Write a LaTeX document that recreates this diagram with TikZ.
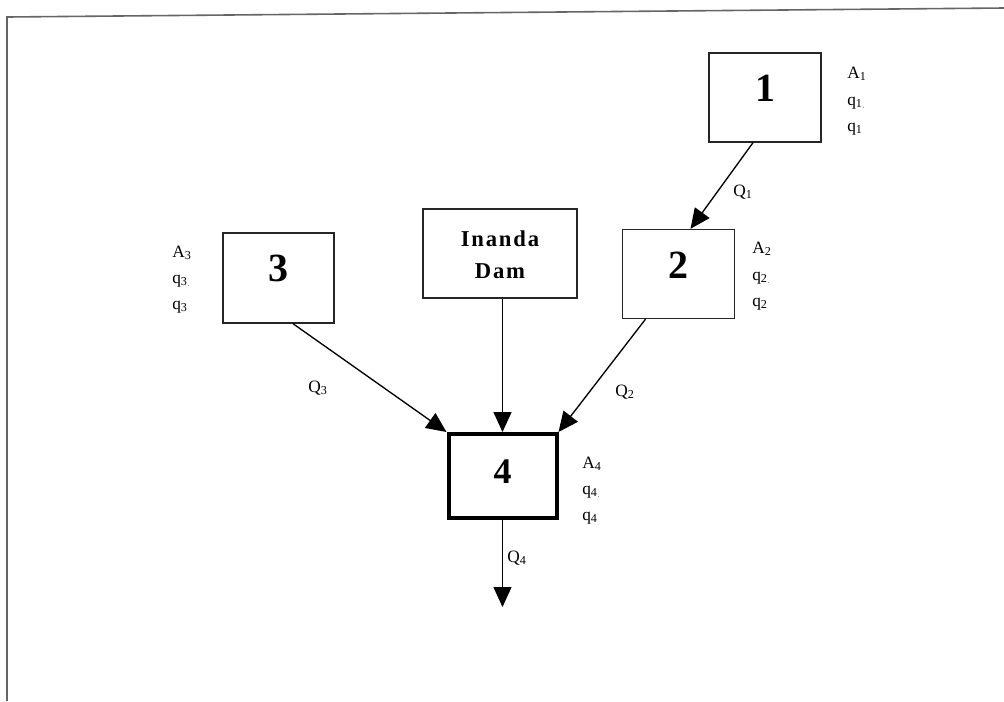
\documentclass[tikz,border=0pt]{standalone}
\usepackage{fontspec}
\setmainfont{Liberation Serif}
\newfontfamily\damfont[LetterSpace=8]{Liberation Serif}
\usetikzlibrary{arrows.meta,calc}
\newcommand\qsubdot[1]{q\textsubscript{#1}\raisebox{-2.5pt}{\tiny .}}
\begin{document}
\begin{tikzpicture}[x=0.75pt,y=-0.75pt,
  box/.style={draw=black!85,line width=1pt,minimum width=84pt,minimum height=66.75pt,inner sep=0pt,fill=white},
  bigbox/.style={box,line width=3pt,draw=black,minimum width=81pt,minimum height=63pt},
  num/.style={font=\fontsize{30}{32}\selectfont\bfseries,inner sep=0pt},
  lab/.style={anchor=base west,font=\fontsize{13}{15}\selectfont,inner sep=0pt},
  flow/.style={line width=1pt,-{Triangle[length=15pt,width=13.5pt]}},
  frame/.style={draw=black!60,line width=1.2pt},
]
\useasboundingbox[fill=white] (0,0) rectangle (1004,701);
% frame
\coordinate (fr) at (1004,8);
\coordinate (fc) at (7,17);
\coordinate (fb) at (7,701);
\draw[frame] (fr) -- (fc) -- (fb);

% boxes
\node[box] (b1) at (765,97.5) {};
\node[box] (b2) at (678.5,274) {};
\node[box,minimum width=115.5pt] (dam) at (500,253.5) {};
\node[box,minimum width=83.25pt,minimum height=67.5pt] (b3) at (278.5,278) {};
\node[bigbox] (b4) at (502.5,476) {};

% numbers
\node[num] (n1) at ($(b1)+(0,-9)$) {1};
\node[num] (n2) at ($(b2)+(0,-9)$) {2};
\node[num] (n3) at ($(b3)+(0,-9.5)$) {3};
\node[num,font=\fontsize{27}{30}\selectfont\bfseries] (n4) at ($(b4)+(0,-4.5)$) {4};
\node[font=\damfont\fontsize{17}{24}\selectfont\bfseries,align=center,inner sep=0pt] (dt) at ($(dam)+(0,1)$) {Inanda\\Dam};

% side labels
\node[lab] (a1) at (847,78) {A\textsubscript{1}};
\node[lab] (p1) at (847,105) {\qsubdot{1}};
\node[lab] (r1) at (847,131) {q\textsubscript{1}};
\node[lab] (a2) at (752,253) {A\textsubscript{2}};
\node[lab] (p2) at (752,280) {\qsubdot{2}};
\node[lab] (r2) at (752,306) {q\textsubscript{2}};
\node[lab] (a3) at (172,257) {A\textsubscript{3}};
\node[lab] (p3) at (172,283) {\qsubdot{3}};
\node[lab] (r3) at (172,309) {q\textsubscript{3}};
\node[lab] (a4) at (582,468) {A\textsubscript{4}};
\node[lab] (p4) at (582,494) {\qsubdot{4}};
\node[lab] (r4) at (582,520) {q\textsubscript{4}};

% connectors
\coordinate (out) at (502.5,607);
\draw[flow] ($(b1.south)+(-12,0)$) -- ($(b2.north)+(12,0)$);
\draw[flow] ($(b3.south)+(14.5,0)$) -- (b4.north west);
\draw[flow] ($(dam.south)+(2.5,0)$) -- (b4.north);
\draw[flow] ($(b2.south)+(-33,0)$) -- (b4.north east);
\draw[flow] (b4.south) -- (out);

% flow labels
\node[lab] (q1) at (733,196) {Q\textsubscript{1}};
\node[lab] (q2) at (615,396) {Q\textsubscript{2}};
\node[lab] (q3) at (308,392) {Q\textsubscript{3}};
\node[lab] (q4) at (507,562) {Q\textsubscript{4}};
\end{tikzpicture}
\end{document}
